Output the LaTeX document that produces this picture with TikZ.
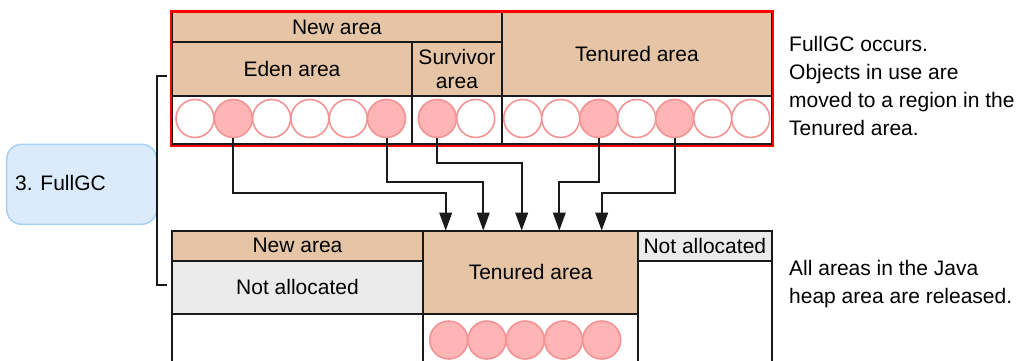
\documentclass[tikz,border=0pt]{standalone}
\usepackage{fontspec}
\setmainfont{Liberation Sans}
\usetikzlibrary{arrows.meta}
\definecolor{areatan}{HTML}{E5C5A5}
\definecolor{freegrey}{HTML}{EBEBEB}
\definecolor{objfill}{HTML}{FFB5B5}
\definecolor{objline}{HTML}{F39494}
\definecolor{stepfill}{HTML}{DBEBFC}
\definecolor{stepline}{HTML}{A9D0F5}
\definecolor{gridline}{HTML}{1A1A1A}
\begin{document}
\begin{tikzpicture}[x=1pt,y=-1pt,
  font=\fontsize{21}{27.8}\selectfont,
  cellbase/.style={draw=gridline, line width=1.9pt, inner sep=0pt, outer sep=0pt},
  tancell/.style={cellbase, fill=areatan},
  greycell/.style={cellbase, fill=freegrey},
  opencell/.style={cellbase, fill=white},
  obj/.style={circle, draw=objline, line width=1.6pt, minimum size=38pt, inner sep=0pt, fill=white},
  live/.style={obj, fill=objfill},
  arr/.style={line width=2pt, gridline, -{Triangle[length=18pt,width=12.5pt]}},
  heapframe/.style={draw=red, line width=2.6pt, inner sep=0pt, fill=none},
  stepbox/.style={draw=stepline, fill=stepfill, line width=1.5pt, rounded corners=15pt, inner sep=0pt},
  note/.style={anchor=north west, align=left, inner sep=0pt, text=black}]
\useasboundingbox (0,0) rectangle (1020,361);
\clip (0,0) rectangle (1020,361);

% ---- heap before FullGC ----
\node[tancell, minimum width=330pt, minimum height=30pt] (newtop) at (337,27) {New area};
\node[tancell, minimum width=240pt, minimum height=54pt] (eden) at (292,69) {Eden area};
\node[tancell, minimum width=90pt, minimum height=54pt, align=center,
      font=\fontsize{21}{24}\selectfont] (surv) at (457,69) {Survivor\\area};
\node[tancell, minimum width=270pt, minimum height=84pt] (tentop) at (637,54) {Tenured area};
\node[opencell, minimum width=240pt, minimum height=48pt] (edenrow) at (292,120) {};
\node[opencell, minimum width=90pt, minimum height=48pt] (survrow) at (457,120) {};
\node[opencell, minimum width=270pt, minimum height=48pt] (tenrow) at (637,120) {};
\node[heapframe, minimum width=602pt, minimum height=134.5pt] (heaptop) at (472,78.75) {};

% objects
\foreach \i/\kind in {1/obj,2/live,3/obj,4/obj,5/obj,6/live}
  \node[\kind] (ec\i) at ({195+38.3*(\i-1)},118.5) {};
\node[live] (sc1) at (437.3,118.5) {};
\node[obj]  (sc2) at (475.7,118.5) {};
\foreach \i/\kind in {1/obj,2/obj,3/live,4/obj,5/live,6/obj,7/obj}
  \node[\kind] (tc\i) at ({522.7+38*(\i-1)},118.5) {};

% ---- heap after FullGC ----
\node[tancell, minimum width=251pt, minimum height=30pt] (newlow) at (297.5,245.7) {New area};
\node[greycell, minimum width=251pt, minimum height=53.3pt] (nalow) at (297.5,287.35) {Not allocated};
\node[tancell, minimum width=215.3pt, minimum height=83.3pt] (tenlow) at (530.65,272.35) {Tenured area};
\node[greycell, minimum width=133.7pt, minimum height=30pt] (naright) at (704.85,245.7) {Not allocated};
\node[opencell, minimum width=251pt, minimum height=80pt] (freelow) at (297.5,354) {};
\node[opencell, minimum width=215.3pt, minimum height=80pt] (oldlow) at (530.65,354) {};
\node[opencell, minimum width=133.7pt, minimum height=140pt] (freeright) at (704.85,330.7) {};
\foreach \i in {1,...,5}
  \node[live] (lc\i) at ({448.7+38.25*(\i-1)},340) {};

% arrow targets on the top edge of the tenured area
\foreach \i/\x in {1/445.7,2/483.3,3/521.7,4/559.3,5/601.7}
  \coordinate (in\i) at (\x,230.7);

% ---- live objects are moved ----
\draw[arr] (ec2.south) -- (ec2.south |- 0,193.3) -| (in1);
\draw[arr] (ec6.south) -- (ec6.south |- 0,181.7) -| (in2);
\draw[arr] (sc1.south) -- (sc1.south |- 0,162.7) -| (in3);
\draw[arr] (tc3.south) -- (tc3.south |- 0,181.7) -| (in4);
\draw[arr] (tc5.south) -- (tc5.south |- 0,193.3) -| (in5);

% ---- step label and bracket ----
\node[stepbox, minimum width=150pt, minimum height=80pt] (fgc) at (81.7,184.3) {};
\node[anchor=west, inner sep=0pt] (fgclabel) at (15,182.6) {3. FullGC};
\coordinate (brtop) at (166.7,75.7);
\coordinate (brbot) at (166.7,285);
\draw[line width=1.9pt, gridline] (brtop) -- ++(-10,0) |- (brbot);

% ---- notes ----
\node[note] (note1) at (789,36.5) {FullGC occurs.\\Objects in use are\\moved to a region in the\\Tenured area.};
\node[note] (note2) at (789,259.8) {All areas in the Java\\heap area are released.};
\end{tikzpicture}
\end{document}
